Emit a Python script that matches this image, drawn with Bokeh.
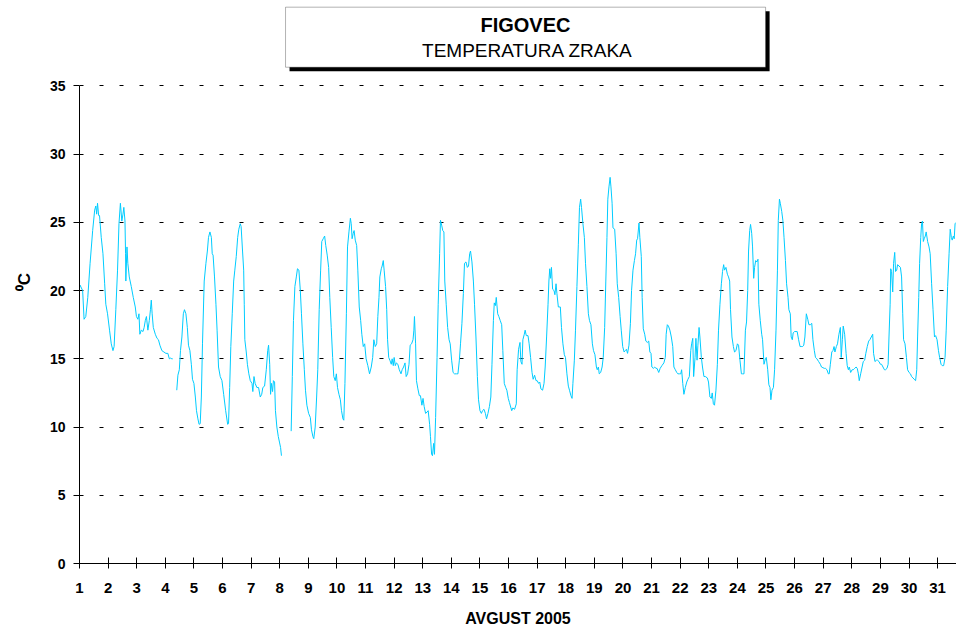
from bokeh.plotting import figure
from bokeh.models import Range1d, FixedTicker, Label, BoxAnnotation, ColumnDataSource
from bokeh.embed import file_html
from bokeh.resources import INLINE

NaN = float("nan")

# Time in days of August 2005 (1.0 = 1 Aug 00:00) and air temperature (deg C)
days = [
    1.00, 1.02, 1.11, 1.16, 1.22, 1.29, 1.37, 1.46, 1.53, 1.57, 1.60, 1.63, 1.67, 1.70, 1.76, 1.82, 1.88, 1.92, 1.98,
    2.05, 2.11, 2.17, 2.21, 2.27, 2.33, 2.38, 2.43, 2.48, 2.52, 2.55, 2.59, 2.61, 2.62, 2.66, 2.69, 2.74, 2.81, 2.88, 2.95, 2.99,
    3.04, 3.08, 3.11, 3.16, 3.22, 3.26, 3.30, 3.34, 3.39, 3.44, 3.48, 3.51, 3.54, 3.58, 3.65, 3.71, 3.76, 3.81, 3.88, 3.95,
    4.02, 4.09, 4.14, 4.18, 4.23, 4.26, 4.33,
    4.40, 4.44, 4.49, 4.53, 4.58, 4.63, 4.67, 4.72, 4.77, 4.81, 4.86, 4.91, 4.95,
    5.00, 5.05, 5.09, 5.14, 5.18, 5.22, 5.26, 5.30, 5.36, 5.42, 5.47, 5.51, 5.56, 5.61, 5.64, 5.67, 5.72, 5.77, 5.81, 5.86, 5.92, 5.98,
    6.04, 6.11, 6.18, 6.21, 6.25, 6.29, 6.34, 6.39, 6.43, 6.48, 6.53, 6.57, 6.62, 6.65, 6.70, 6.74, 6.76, 6.78, 6.83, 6.87, 6.92, 6.97,
    7.03, 7.06, 7.10, 7.14, 7.20, 7.26, 7.32, 7.37, 7.41, 7.47, 7.53, 7.58, 7.61, 7.65, 7.68, 7.71, 7.75, 7.78, 7.82, 7.85, 7.90, 7.95, 7.99,
    8.03, 8.06, 8.23,
    8.40, 8.44, 8.48, 8.53, 8.58, 8.62, 8.67, 8.72, 8.76, 8.81, 8.86, 8.90, 8.95,
    9.01, 9.07, 9.11, 9.16, 9.19, 9.24, 9.29, 9.33, 9.38, 9.43, 9.47, 9.52, 9.57, 9.61, 9.66, 9.71, 9.75, 9.80, 9.85, 9.89, 9.94, 9.98,
    10.02, 10.07, 10.12, 10.16, 10.21, 10.24, 10.28, 10.33, 10.37, 10.42, 10.47, 10.50, 10.53, 10.57, 10.60, 10.64, 10.69, 10.73,
    10.78, 10.83, 10.87, 10.92, 10.97,
    11.02, 11.08, 11.14, 11.20, 11.25, 11.29, 11.34, 11.39, 11.43, 11.47, 11.50, 11.55, 11.58, 11.62, 11.65, 11.70, 11.74, 11.77,
    11.81, 11.85, 11.90, 11.93, 11.97,
    12.00, 12.04, 12.08, 12.13, 12.18, 12.24, 12.28, 12.33, 12.38, 12.42, 12.47, 12.52, 12.56, 12.61, 12.66, 12.69, 12.71, 12.75,
    12.78, 12.83, 12.88, 12.92, 12.97,
    13.01, 13.05, 13.10, 13.15, 13.19, 13.24, 13.27, 13.31, 13.34, 13.38, 13.41, 13.45, 13.50, 13.54, 13.59, 13.62, 13.66, 13.70,
    13.74, 13.77, 13.82, 13.87, 13.92, 13.96,
    14.01, 14.06, 14.11, 14.18, 14.23, 14.28, 14.32, 14.37, 14.42, 14.46, 14.51, 14.56, 14.60, 14.64, 14.67, 14.72, 14.77, 14.81,
    14.86, 14.91, 14.95,
    15.00, 15.05, 15.09, 15.14, 15.19, 15.23, 15.28, 15.33, 15.38, 15.42, 15.47, 15.50, 15.54, 15.57, 15.62, 15.66, 15.71, 15.76,
    15.80, 15.85, 15.90, 15.94, 15.99,
    16.03, 16.11, 16.15, 16.21, 16.27, 16.30, 16.35, 16.40, 16.43, 16.47, 16.50, 16.55, 16.58, 16.62, 16.68, 16.72, 16.77, 16.82,
    16.86, 16.91, 16.96,
    17.00, 17.05, 17.09, 17.13, 17.19, 17.24, 17.28, 17.33, 17.38, 17.41, 17.44, 17.47, 17.50, 17.54, 17.59, 17.62, 17.66, 17.69,
    17.74, 17.81, 17.85, 17.90, 17.95, 17.99,
    18.04, 18.09, 18.13, 18.18, 18.22, 18.25, 18.30, 18.34, 18.39, 18.44, 18.48, 18.52, 18.55, 18.60, 18.65, 18.69, 18.74, 18.79,
    18.83, 18.88, 18.93, 18.97,
    19.02, 19.07, 19.10, 19.14, 19.17, 19.22, 19.27, 19.31, 19.36, 19.40, 19.44, 19.47, 19.51, 19.55, 19.58, 19.62, 19.65, 19.71,
    19.76, 19.80, 19.85, 19.90, 19.94, 19.99,
    20.04, 20.08, 20.12, 20.16, 20.21, 20.26, 20.30, 20.35, 20.40, 20.44, 20.48, 20.51, 20.56, 20.59, 20.64, 20.67, 20.71, 20.76,
    20.80, 20.85, 20.90, 20.94, 20.98,
    21.01, 21.06, 21.11, 21.15, 21.19, 21.25, 21.30, 21.36, 21.43, 21.48, 21.51, 21.55, 21.59, 21.64, 21.69, 21.74, 21.78, 21.83,
    21.88, 21.92, 21.97,
    22.02, 22.05, 22.09, 22.13, 22.18, 22.23, 22.27, 22.32, 22.37, 22.40, 22.44, 22.47, 22.52, 22.55, 22.59, 22.62, 22.66, 22.69,
    22.74, 22.78, 22.83, 22.88, 22.95, 22.99,
    23.04, 23.09, 23.12, 23.16, 23.20, 23.25, 23.30, 23.34, 23.39, 23.44, 23.48, 23.52, 23.55, 23.60, 23.65, 23.69, 23.73, 23.76,
    23.81, 23.86, 23.90, 23.95,
    24.00, 24.04, 24.09, 24.14, 24.18, 24.23, 24.28, 24.32, 24.36, 24.39, 24.43, 24.46, 24.50, 24.53, 24.57, 24.60, 24.64, 24.68,
    24.72, 24.75, 24.80, 24.85, 24.88, 24.93, 24.98,
    25.01, 25.06, 25.10, 25.14, 25.17, 25.21, 25.26, 25.30, 25.35, 25.40, 25.43, 25.47, 25.50, 25.55, 25.59, 25.63, 25.68, 25.72,
    25.77, 25.80, 25.85, 25.88, 25.92, 25.95,
    26.00, 26.05, 26.09, 26.14, 26.19, 26.23, 26.28, 26.32, 26.36, 26.41, 26.46, 26.50, 26.55, 26.60, 26.64, 26.69, 26.73, 26.78,
    26.84, 26.90, 26.94, 26.99,
    27.04, 27.08, 27.13, 27.18, 27.21, 27.25, 27.30, 27.34, 27.38, 27.41, 27.46, 27.50, 27.55, 27.60, 27.63, 27.67, 27.70, 27.75,
    27.80, 27.84, 27.88, 27.91, 27.96,
    28.01, 28.05, 28.10, 28.15, 28.19, 28.23, 28.26, 28.31, 28.36, 28.40, 28.45, 28.49, 28.54, 28.59, 28.63, 28.68, 28.73, 28.76,
    28.81, 28.86, 28.90, 28.95,
    29.00, 29.04, 29.09, 29.14, 29.18, 29.23, 29.27, 29.30, 29.34, 29.36, 29.39, 29.43, 29.46, 29.50, 29.53, 29.57, 29.60, 29.65,
    29.70, 29.74, 29.78, 29.81, 29.86, 29.91, 29.95,
    30.00, 30.05, 30.09, 30.14, 30.18, 30.23, 30.27, 30.30, 30.34, 30.37, 30.41, 30.44, 30.47, 30.50, 30.53, 30.57, 30.60, 30.65,
    30.70, 30.74, 30.79, 30.84, 30.89, 30.93, 30.98,
    31.03, 31.07, 31.12, 31.16, 31.21, 31.26, 31.30, 31.35, 31.40, 31.44, 31.48, 31.51, 31.55, 31.58, 31.61, 31.65,
]

temps = [
    20.2, 20.4, 20.0, 17.9, 18.1, 19.5, 22.0, 24.4, 25.9, 26.2, 25.6, 26.4, 25.5, 25.5, 23.9, 22.7, 20.5, 19.0, 18.3,
    17.1, 16.1, 15.6, 15.9, 18.6, 21.5, 24.9, 26.4, 25.1, 25.6, 26.1, 25.1, 22.7, 20.7, 23.2, 22.0, 21.0, 20.3, 19.5, 18.8, 18.1,
    17.9, 18.3, 16.8, 17.1, 17.0, 17.3, 17.8, 18.1, 17.1, 17.8, 18.6, 19.3, 18.3, 17.3, 16.8, 16.5, 16.4, 16.0, 15.6, 15.5,
    15.4, 15.4, 15.0, 15.05, 15.0, 15.0, NaN,
    12.7, 13.8, 14.2, 15.6, 16.6, 18.3, 18.6, 18.3, 17.3, 16.0, 15.6, 14.6, 13.5,
    13.2, 12.2, 11.2, 10.6, 10.2, 10.25, 12.2, 16.1, 20.7, 22.0, 22.9, 23.9, 24.3, 23.9, 22.7, 22.6, 21.0, 19.0, 17.1, 14.4, 13.7, 13.4,
    12.4, 11.2, 10.2, 10.25, 12.9, 15.9, 18.3, 20.7, 21.5, 22.5, 23.9, 24.5, 24.9, 24.7, 22.9, 21.5, 19.0, 16.4, 15.5, 14.6, 13.9, 13.4,
    13.2, 12.6, 13.7, 13.2, 12.9, 12.9, 12.2, 12.4, 12.9, 13.0, 14.2, 15.6, 16.0, 14.6, 12.4, 13.2, 12.6, 13.4, 13.3, 11.2, 10.0, 9.3, 8.9,
    8.5, 7.9, NaN,
    9.7, 13.7, 17.8, 20.3, 21.0, 21.6, 21.5, 20.0, 18.3, 16.1, 14.2, 12.7, 11.6,
    11.0, 10.7, 9.8, 9.3, 9.15, 10.0, 12.2, 14.2, 18.6, 21.5, 23.6, 23.8, 24.0, 23.3, 22.6, 21.7, 19.5, 17.3, 15.1, 13.7, 13.4, 13.9,
    12.9, 12.4, 12.0, 11.2, 10.6, 10.5, 13.2, 18.3, 23.2, 24.3, 25.3, 24.9, 23.8, 24.2, 24.4, 23.7, 23.3, 21.5,
    18.8, 17.8, 16.8, 15.9, 16.1,
    15.0, 14.5, 13.9, 14.4, 15.1, 16.4, 15.9, 16.1, 18.1, 19.5, 21.0, 21.6, 21.8, 22.2, 21.5, 20.3, 18.6, 16.4,
    15.1, 14.9, 14.6, 15.0, 14.5,
    15.1, 14.5, 14.7, 14.6, 14.2, 13.9, 14.2, 14.4, 14.7, 13.7, 13.9, 14.6, 16.0, 16.1, 16.4, 17.1, 18.1, 16.1,
    13.4, 12.8, 12.3, 12.3, 11.6,
    12.1, 11.5, 11.0, 11.1, 11.2, 10.2, 9.3, 8.0, 7.9, 8.8, 8.0, 10.7, 15.1, 19.0, 22.7, 25.15, 24.8, 24.4,
    24.3, 20.7, 19.0, 17.3, 16.4, 16.1,
    14.9, 14.0, 13.9, 13.9, 13.9, 14.9, 16.1, 17.6, 19.8, 22.0, 22.1, 21.7, 21.8, 22.7, 22.9, 22.1, 20.7, 19.0,
    16.6, 13.7, 12.0,
    11.2, 11.0, 11.2, 11.3, 11.0, 10.6, 11.0, 11.5, 12.2, 14.6, 17.8, 19.1, 18.9, 19.5, 18.3, 18.1, 17.8, 17.5,
    15.6, 13.2, 12.9, 12.7, 12.1,
    11.8, 11.2, 11.4, 11.3, 11.7, 14.2, 15.7, 16.2, 14.8, 14.6, 16.4, 16.8, 17.1, 16.7, 16.7, 16.1, 15.1, 14.0,
    13.5, 13.8, 13.4,
    13.4, 13.2, 13.3, 12.8, 12.7, 13.2, 14.4, 16.6, 19.0, 20.7, 21.6, 20.9, 21.7, 20.1, 20.0, 19.7, 20.5, 19.8,
    18.8, 18.8, 17.3, 16.1, 15.3, 15.1,
    13.9, 13.0, 12.7, 12.3, 12.1, 13.2, 14.9, 17.1, 20.3, 23.4, 26.1, 26.7, 26.1, 24.9, 23.9, 22.0, 20.3, 18.3,
    17.8, 17.5, 16.1, 15.6,
    15.3, 14.4, 14.2, 14.4, 13.9, 14.0, 14.4, 15.1, 17.3, 20.7, 23.9, 26.7, 27.6, 28.3, 27.6, 26.4, 24.6, 24.5,
    22.7, 20.5, 19.5, 18.1, 17.1, 15.9,
    15.5, 15.6, 15.7, 15.4, 16.0, 17.6, 20.0, 21.5, 22.2, 22.7, 23.7, 23.8, 24.95, 23.9, 22.5, 19.5, 17.2, 16.8,
    16.3, 16.2, 16.3, 15.5, 15.4,
    14.4, 14.3, 14.4, 14.3, 14.3, 14.0, 14.3, 14.5, 14.7, 15.1, 16.8, 17.5, 17.4, 17.1, 16.6, 15.9, 14.4, 14.2,
    14.0, 13.9, 13.9,
    13.9, 14.2, 13.2, 12.4, 12.9, 13.3, 13.5, 13.7, 15.6, 16.1, 16.5, 13.7, 15.1, 16.5, 14.9, 16.0, 17.3, 16.6,
    15.1, 14.4, 13.7, 13.7, 13.6, 13.3,
    12.2, 12.1, 12.5, 11.7, 11.6, 12.7, 14.6, 17.1, 19.0, 20.5, 21.4, 21.9, 21.5, 21.7, 21.2, 21.0, 20.7, 18.6,
    16.6, 15.9, 15.5, 15.6,
    16.1, 16.0, 14.9, 13.9, 13.9, 13.9, 17.1, 17.7, 20.0, 22.9, 24.4, 24.85, 24.2, 23.2, 20.9, 21.7, 22.2, 22.1,
    22.3, 19.0, 17.8, 16.8, 16.4, 14.6, 15.0,
    15.1, 14.2, 13.1, 12.9, 12.0, 12.7, 12.9, 14.2, 17.1, 21.5, 25.15, 26.7, 26.4, 25.8, 25.15, 23.9, 22.2, 20.5,
    19.5, 18.6, 18.3, 16.6, 16.4, 16.9,
    17.0, 17.0, 17.0, 16.4, 15.9, 15.9, 15.9, 16.0, 16.6, 18.3, 17.9, 17.5, 17.5, 17.6, 16.4, 15.6, 15.1, 15.0,
    14.8, 14.6, 14.4, 14.35,
    14.3, 14.3, 14.2, 13.9, 13.9, 14.6, 15.5, 15.6, 15.9, 15.5, 15.9, 16.1, 16.8, 17.3, 15.1, 16.4, 17.4, 16.8,
    15.4, 14.5, 14.2, 14.4, 14.0,
    14.2, 14.2, 14.3, 14.4, 14.3, 13.9, 13.4, 13.9, 14.4, 14.8, 14.9, 15.4, 15.9, 16.3, 16.4, 16.6, 16.8, 15.4,
    14.8, 14.9, 14.9, 14.8,
    14.6, 14.6, 14.4, 14.2, 14.2, 14.3, 14.6, 16.6, 19.0, 21.6, 21.4, 19.9, 22.0, 22.8, 21.4, 21.5, 21.9, 21.8,
    21.7, 21.0, 18.3, 16.4, 16.1, 15.1, 14.2,
    14.0, 13.9, 13.7, 13.6, 13.5, 13.4, 14.2, 16.6, 19.5, 22.0, 23.9, 24.9, 25.1, 23.6, 23.8, 24.0, 24.3, 23.6,
    23.2, 22.7, 20.5, 18.6, 16.6, 16.7, 16.4,
    15.6, 15.1, 14.6, 14.5, 14.5, 15.1, 17.1, 20.3, 22.7, 24.5, 23.9, 23.7, 24.0, 23.8, 24.9, 25.0,
]

day_ticks = list(range(1, 32))
temp_ticks = [0, 5, 10, 15, 20, 25, 30, 35]

title_main = "FIGOVEC"
title_sub = "TEMPERATURA ZRAKA"
x_title = "AVGUST 2005"
y_title = "\u2070C"

FONT = "Liberation Sans"

source = ColumnDataSource(data=dict(day=days, temp=temps))

# The frame reaches the top of the canvas so that the title box (drawn in
# data units above 35 degC) is not clipped; the y axis itself stops at 35.
p = figure(
    width=956, height=632,
    output_backend="svg", toolbar_location=None,
    x_range=Range1d(1, 31.66), y_range=Range1d(0, 41.26),
    min_border_left=79, min_border_right=0, min_border_top=0, min_border_bottom=69,
)
p.outline_line_color = None
p.background_fill_color = "white"
p.border_fill_color = "white"

p.line(x="day", y="temp", source=source, line_color="#00CCFF", line_width=1)

# axes
p.xaxis.ticker = FixedTicker(ticks=day_ticks)
p.yaxis.ticker = FixedTicker(ticks=temp_ticks)
p.yaxis.bounds = (0, 35)
for ax in (p.xaxis, p.yaxis):
    ax.axis_line_color = "black"
    ax.axis_line_width = 1
    ax.major_tick_line_color = "black"
    ax.minor_tick_line_color = None
    ax.major_label_text_font = FONT
    ax.major_label_text_font_style = "bold"
    ax.major_label_text_color = "black"
    ax.axis_label_text_font = FONT
    ax.axis_label_text_font_style = "bold"
    ax.axis_label_text_color = "black"

p.xaxis.major_tick_in = 6
p.xaxis.major_tick_out = 5
p.xaxis.major_label_text_font_size = "15px"
p.xaxis.major_label_standoff = 14
p.xaxis.axis_label = x_title
p.xaxis.axis_label_text_font_size = "16px"
p.xaxis.axis_label_standoff = 14

p.yaxis.major_tick_in = 0
p.yaxis.major_tick_out = 6
p.yaxis.major_label_text_font_size = "14px"
p.yaxis.major_label_standoff = 8
p.yaxis.axis_label = y_title
p.yaxis.axis_label_text_font_size = "17px"
p.yaxis.axis_label_standoff = 13

# grid
p.xgrid.visible = False
p.ygrid.ticker = FixedTicker(ticks=temp_ticks[1:])
p.ygrid.grid_line_color = "black"
p.ygrid.grid_line_width = 1
p.ygrid.grid_line_dash = "4 16"

# title box with drop shadow
shadow = BoxAnnotation(left=8.343, right=25.126, top=40.47, bottom=36.08,
                       fill_color="black", fill_alpha=1.0, line_color=None)
box = BoxAnnotation(left=8.203, right=24.986, top=40.77, bottom=36.37,
                    fill_color="white", fill_alpha=1.0, line_color="black", line_width=1)
p.add_layout(shadow)
p.add_layout(box)

p.add_layout(Label(x=16.59, y=39.43, text=title_main, text_align="center", text_baseline="middle",
                   text_font=FONT, text_font_style="bold", text_font_size="20px", text_color="black"))
p.add_layout(Label(x=16.66, y=37.59, text=title_sub, text_align="center", text_baseline="middle",
                   text_font=FONT, text_font_size="19px", text_color="black"))

open("out.html", "w").write(file_html(p, INLINE))
